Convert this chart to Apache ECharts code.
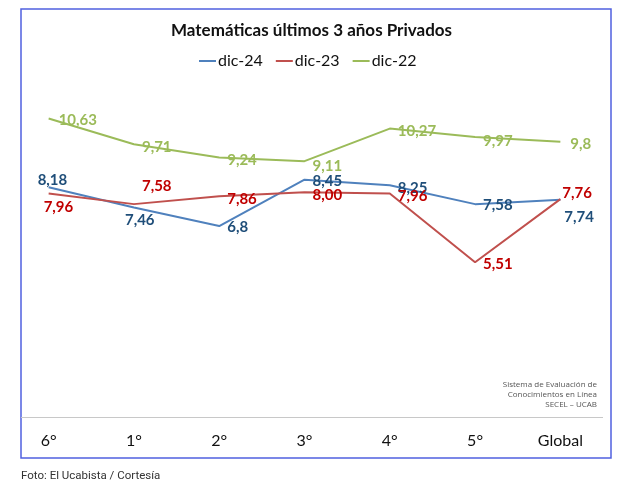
<!DOCTYPE html>
<html lang="es">
<head>
    <meta charset="UTF-8">
    <script src="https://cdn.jsdelivr.net/npm/echarts@6/dist/echarts.min.js"></script>
    <style>
        html, body { margin: 0; padding: 0; background: #fff; }
    </style>
</head>
<body>
<div id="main" style="width: 630px;height:494px;"></div>
</body>
</html>
<script type="text/javascript">
    var categories = ['6°', '1°', '2°', '3°', '4°', '5°', 'Global'];
    var dic24 = [8.18, 7.46, 6.8, 8.45, 8.25, 7.58, 7.74];
    var dic23 = [7.96, 7.58, 7.86, 8.00, 7.96, 5.51, 7.76];
    var dic22 = [10.63, 9.71, 9.24, 9.11, 10.27, 9.97, 9.8];

    // posiciones de las etiquetas, como en el original
    var pos24 = [[-11, -15], [-9, 5], [8, -6], [8, -6], [8, -5], [8, -6], [4, 10]];
    var pos23 = [[-5, 6], [8, -25], [8, -5], [8, -5], [8, -5], [8, -6], [2, -13]];
    var pos22 = [[10, -6], [8, -5], [8, -5], [8, -3], [8, -5], [8, -3], [10, -5]];

    var dec24 = [2, 2, 1, 2, 2, 2, 2];
    var dec23 = [2, 2, 2, 2, 2, 2, 2];
    var dec22 = [2, 2, 2, 2, 2, 2, 1];

    var fuente = ['Sistema de Evaluación de', 'Conocimientos en Línea', 'SECEL – UCAB'];

    function fmt(v, dec) {
        return v.toFixed(dec).replace('.', ',');
    }

    function build(values, pos, decs, color) {
        return values.map(function (v, i) {
            return {
                value: v,
                label: {
                    show: true,
                    position: pos[i],
                    color: color,
                    fontFamily: 'Lato',
                    fontWeight: 'bold',
                    fontSize: 15,
                    formatter: fmt(v, decs[i])
                }
            };
        });
    }

    var myChart = echarts.init(document.getElementById('main'));

    var graphics = [
        {
            type: 'rect',
            shape: { x: 21, y: 9, width: 590, height: 449 },
            style: { fill: 'none', stroke: '#5060e0', lineWidth: 1.5 },
            z: -1
        },
        {
            type: 'line',
            shape: { x1: 21, y1: 417.5, x2: 603, y2: 417.5 },
            style: { stroke: '#c8c8c8', lineWidth: 1 }
        },
        {
            type: 'text',
            left: 21,
            top: 470,
            style: {
                text: 'Foto: El Ucabista / Cortesía',
                fontFamily: 'Roboto',
                fontSize: 11.5,
                fill: '#333'
            }
        }
    ];
    fuente.forEach(function (t, i) {
        graphics.push({
            type: 'text',
            right: 33,
            top: 381 + i * 10,
            style: { text: t, fontFamily: 'Open Sans', fontSize: 8, fill: '#555' }
        });
    });

    var option = {
        animation: false,
        title: {
            text: 'Matemáticas últimos 3 años Privados',
            left: 166,
            top: 17,
            textStyle: { fontFamily: 'Lato', fontSize: 17, fontWeight: 'bold', color: '#111' }
        },
        legend: {
            data: ['dic-24', 'dic-23', 'dic-22'],
            top: 48,
            left: 194,
            itemWidth: 17,
            itemHeight: 2,
            itemGap: 13,
            icon: 'rect',
            textStyle: { fontFamily: 'Lato', fontSize: 16, color: '#111', padding: [0, 0, 0, -3] }
        },
        grid: { left: 6, right: 27, top: 80, bottom: 77 },
        xAxis: {
            type: 'category',
            data: categories,
            axisLine: { show: false },
            axisTick: { show: false },
            axisLabel: { fontFamily: 'Lato', fontSize: 16, color: '#111', margin: 16 }
        },
        yAxis: {
            type: 'value',
            min: 0,
            max: 12,
            show: false,
            splitLine: { show: false }
        },
        graphic: graphics,
        series: [
            {
                name: 'dic-24',
                type: 'line',
                symbol: 'circle',
                symbolSize: 0,
                color: '#4f81bd',
                lineStyle: { width: 2 },
                data: build(dic24, pos24, dec24, '#1f4e79')
            },
            {
                name: 'dic-23',
                type: 'line',
                symbol: 'circle',
                symbolSize: 0,
                color: '#c0504d',
                lineStyle: { width: 2 },
                data: build(dic23, pos23, dec23, '#c00000')
            },
            {
                name: 'dic-22',
                type: 'line',
                symbol: 'circle',
                symbolSize: 0,
                color: '#9bbb59',
                lineStyle: { width: 2 },
                data: build(dic22, pos22, dec22, '#9bbb59')
            }
        ]
    };

    myChart.setOption(option);
</script>
